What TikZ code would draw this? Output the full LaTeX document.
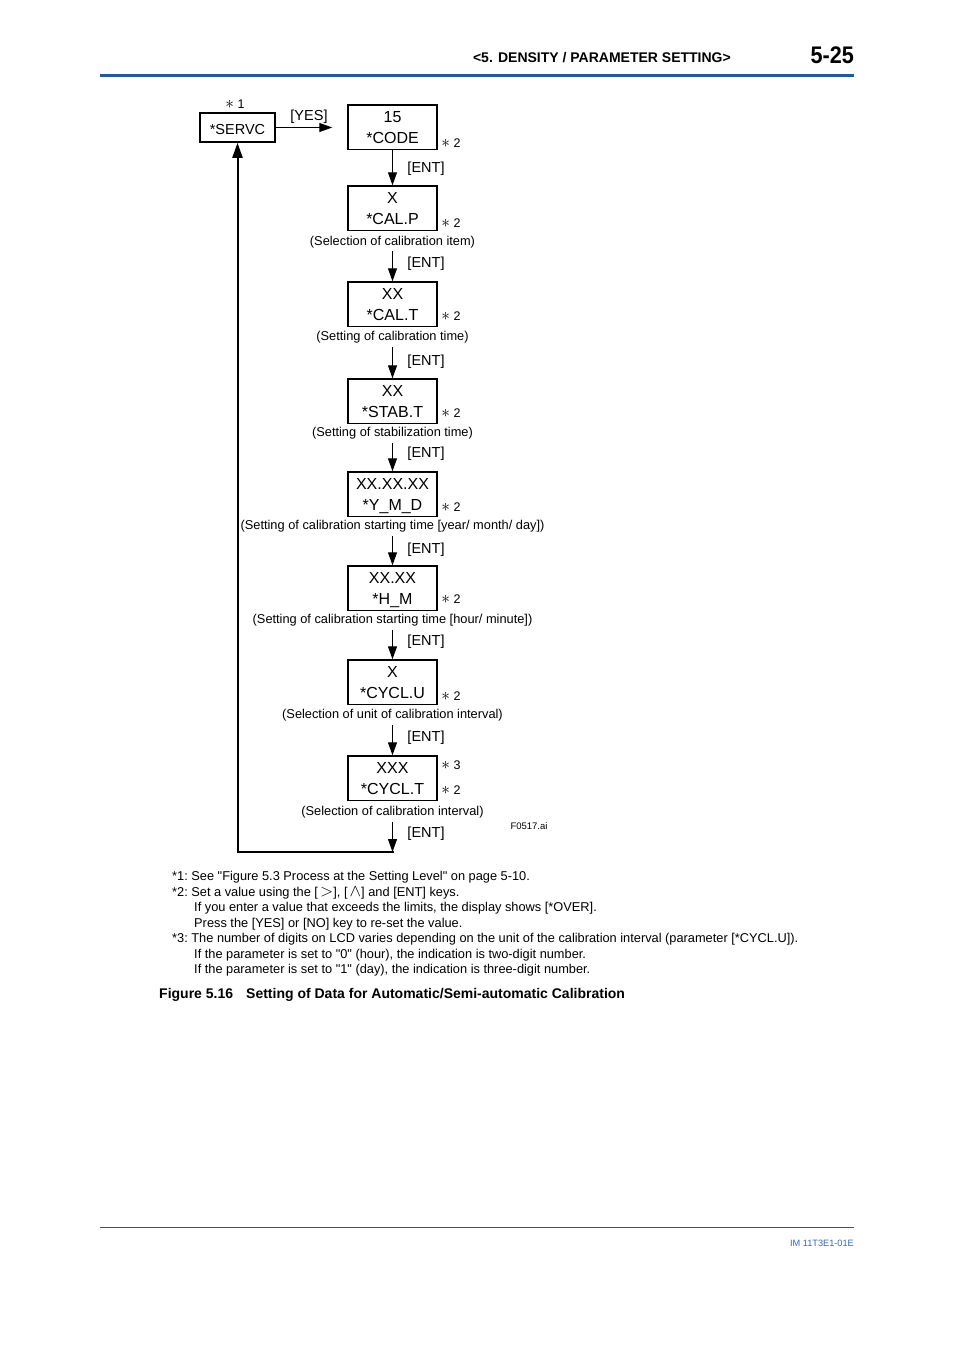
\documentclass[tikz,border=0pt]{standalone}
\usepackage{fontspec}
\setmainfont{Liberation Sans}
\newfontface\hdrnum{Liberation Sans Bold}[FakeStretch=0.9]
\usetikzlibrary{arrows.meta}
\definecolor{hdrblue}{HTML}{2156AE}
\definecolor{ftrblue}{HTML}{2F5597}
\definecolor{ftrtext}{HTML}{3366CC}
\newcommand\mystar{{\fontsize{17}{17}\selectfont$\ast$}}
\newcommand\keysym[1]{{\fontsize{16}{16}\selectfont$#1$}}
\tikzset{
  lcdbox/.style={draw, line width=1.5pt, minimum width=89pt, minimum height=44.5pt, inner sep=0pt},
  smallbox/.style={draw, line width=1.5pt, minimum width=75pt, minimum height=29pt, inner sep=0pt},
  boxtxt/.style={inner sep=0pt, font=\fontsize{16}{19}\selectfont, text height=11.4pt, text depth=0pt},
  captxt/.style={inner sep=0pt, font=\fontsize{12.8}{15}\selectfont, text height=9.2pt, text depth=0pt},
  keytxt/.style={inner sep=0pt, font=\fontsize{14.5}{17}\selectfont, text height=10.4pt, text depth=0pt},
  marktxt/.style={inner sep=0pt, font=\fontsize{12.5}{15}\selectfont, text height=9pt, text depth=0pt},
  notetxt/.style={inner sep=0pt, anchor=west, font=\fontsize{12.8}{15}\selectfont\frenchspacing, text height=9.2pt, text depth=0pt},
  flowarrow/.style={line width=1pt, -{Triangle[length=13pt,width=9pt]}},
  retarrow/.style={line width=2pt, -{Triangle[length=15pt,width=10pt]}},
}
\begin{document}
\begin{tikzpicture}[x=1pt,y=-1pt]
\useasboundingbox (0,0) rectangle (954,1350);
% header
\node[inner sep=0pt, anchor=east, font=\fontsize{14}{16}\bfseries, text height=10pt, text depth=0pt] (hdr) at (731,57) {<5. DENSITY / PARAMETER SETTING>};
\node[inner sep=0pt, anchor=east, font=\hdrnum\fontsize{24}{26}\selectfont, text height=17.2pt, text depth=0pt] (pgno) at (854,55) {5-25};
\draw[hdrblue, line width=3pt] (100,75) -- (854,75);
% footer
\draw[ftrblue, line width=1pt] (100,1227) -- (854,1227);
\node[inner sep=0pt, anchor=east, text=ftrtext, font=\fontsize{9.2}{11}\selectfont, text height=6.6pt, text depth=0pt] (ftr) at (854,1243) {IM 11T3E1-01E};

% SERVC
\node[smallbox] (servc) at (237.5,127.5) {};
\node[boxtxt, font=\fontsize{14.5}{17}\selectfont, text height=10.4pt] (servct) at (237.5,129.5) {*SERVC};
\node[marktxt] (m1) at (235,103.5) {\mystar\ 1};
\node[keytxt] (yes) at (309,115.5) {[YES]};

% boxes
\node[lcdbox] (code) at (392.5,127.3) {};
\node[boxtxt] (codea) at (392.5,116.5) {15};
\node[boxtxt] (codeb) at (392.5,137.5) {*CODE};
\node[marktxt] (m2a) at (451,142.5) {\mystar\ 2};

\node[lcdbox] (calp) at (392.5,208.3) {};
\node[boxtxt] (calpa) at (392.5,197.5) {X};
\node[boxtxt] (calpb) at (392.5,218.5) {*CAL.P};
\node[marktxt] (m2b) at (451,222.5) {\mystar\ 2};
\node[captxt] (calpc) at (392.5,240.5) {(Selection of calibration item)};

\node[lcdbox] (calt) at (392.5,304.3) {};
\node[boxtxt] (calta) at (392.5,293.5) {XX};
\node[boxtxt] (caltb) at (392.5,314.5) {*CAL.T};
\node[marktxt] (m2c) at (451,315.5) {\mystar\ 2};
\node[captxt] (caltc) at (392.5,336) {(Setting of calibration time)};

\node[lcdbox] (stabt) at (392.5,401.3) {};
\node[boxtxt] (stabta) at (392.5,390.5) {XX};
\node[boxtxt] (stabtb) at (392.5,411.5) {*STAB.T};
\node[marktxt] (m2d) at (451,412.5) {\mystar\ 2};
\node[captxt] (stabtc) at (392.5,432) {(Setting of stabilization time)};

\node[lcdbox] (ymd) at (392.5,494.3) {};
\node[boxtxt] (ymda) at (392.5,483.5) {XX.XX.XX};
\node[boxtxt] (ymdb) at (392.5,504.5) {*Y\_M\_D};
\node[marktxt] (m2e) at (451,506.5) {\mystar\ 2};
\node[captxt] (ymdc) at (392.5,525) {(Setting of calibration starting time [year/ month/ day])};

\node[lcdbox] (hm) at (392.5,588.3) {};
\node[boxtxt] (hma) at (392.5,577.5) {XX.XX};
\node[boxtxt] (hmb) at (392.5,598.5) {*H\_M};
\node[marktxt] (m2f) at (451,598.5) {\mystar\ 2};
\node[captxt] (hmc) at (392.5,619) {(Setting of calibration starting time [hour/ minute])};

\node[lcdbox] (cyclu) at (392.5,682.3) {};
\node[boxtxt] (cyclua) at (392.5,671.5) {X};
\node[boxtxt] (cyclub) at (392.5,692.5) {*CYCL.U};
\node[marktxt] (m2g) at (451,695.5) {\mystar\ 2};
\node[captxt] (cycluc) at (392.5,714) {(Selection of unit of calibration interval)};

\node[lcdbox] (cyclt) at (392.5,778.3) {};
\node[boxtxt] (cyclta) at (392.5,767.5) {XXX};
\node[boxtxt] (cycltb) at (392.5,788.5) {*CYCL.T};
\node[marktxt] (m3) at (451,764.5) {\mystar\ 3};
\node[marktxt] (m2h) at (451,789.5) {\mystar\ 2};
\node[captxt] (cycltc) at (392.5,811) {(Selection of calibration interval)};
\node[inner sep=0pt, font=\fontsize{9.5}{11}\selectfont, text height=6.8pt, text depth=0pt] (fname) at (529,826) {F0517.ai};

% ENT labels
\node[keytxt] (e1) at (426,167.5) {[ENT]};
\node[keytxt] (e2) at (426,262.5) {[ENT]};
\node[keytxt] (e3) at (426,360.5) {[ENT]};
\node[keytxt] (e4) at (426,452.5) {[ENT]};
\node[keytxt] (e5) at (426,548.5) {[ENT]};
\node[keytxt] (e6) at (426,640.5) {[ENT]};
\node[keytxt] (e7) at (426,736.5) {[ENT]};
\node[keytxt] (e8) at (426,832.5) {[ENT]};

% connectors
\draw[flowarrow, shorten >=15pt] (servc.east) -- (servc.east -| code.west);
\draw[flowarrow] (code.south) -- (calp.north);
\draw[flowarrow, shorten <=6pt] (calpc.south) -- (calt.north);
\draw[flowarrow, shorten <=6pt] (caltc.south) -- (stabt.north);
\draw[flowarrow, shorten <=6pt] (stabtc.south) -- (ymd.north);
\draw[flowarrow, shorten <=6pt] (ymdc.south) -- (hm.north);
\draw[flowarrow, shorten <=6pt] (hmc.south) -- (cyclu.north);
\draw[flowarrow, shorten <=6pt] (cycluc.south) -- (cyclt.north);
\coordinate (ret) at (392.5,852);
\draw[flowarrow, shorten <=6pt] (cycltc.south) -- (ret);
\draw[retarrow, line cap=rect] (ret) -| (servc.south);

% footnotes
\node[notetxt] (n1) at (172,875.5) {*1: See \textquotedbl Figure 5.3 Process at the Setting Level\textquotedbl\ on page 5-10.};
\node[notetxt] (n2) at (172,891.5) {*2: Set a value using the [\,\keysym{>}], [\,\keysym{\wedge}] and [ENT] keys.};
\node[notetxt] (n3) at (194,906.5) {If you enter a value that exceeds the limits, the display shows [*OVER].};
\node[notetxt] (n4) at (194,922.5) {Press the [YES] or [NO] key to re-set the value.};
\node[notetxt] (n5) at (172,937.5) {*3: The number of digits on LCD varies depending on the unit of the calibration interval (parameter [*CYCL.U]).};
\node[notetxt] (n6) at (194,953.5) {If the parameter is set to \textquotedbl 0\textquotedbl\ (hour), the indication is two-digit number.};
\node[notetxt] (n7) at (194,968.5) {If the parameter is set to \textquotedbl 1\textquotedbl\ (day), the indication is three-digit number.};

% caption
\node[inner sep=0pt, anchor=west, font=\fontsize{14}{16}\bfseries, text height=10pt, text depth=0pt] (fig) at (159,993) {Figure 5.16};
\node[inner sep=0pt, anchor=west, font=\fontsize{14}{16}\bfseries, text height=10pt, text depth=0pt] (figt) at (246,993) {Setting of Data for Automatic/Semi-automatic Calibration};
\end{tikzpicture}
\end{document}
